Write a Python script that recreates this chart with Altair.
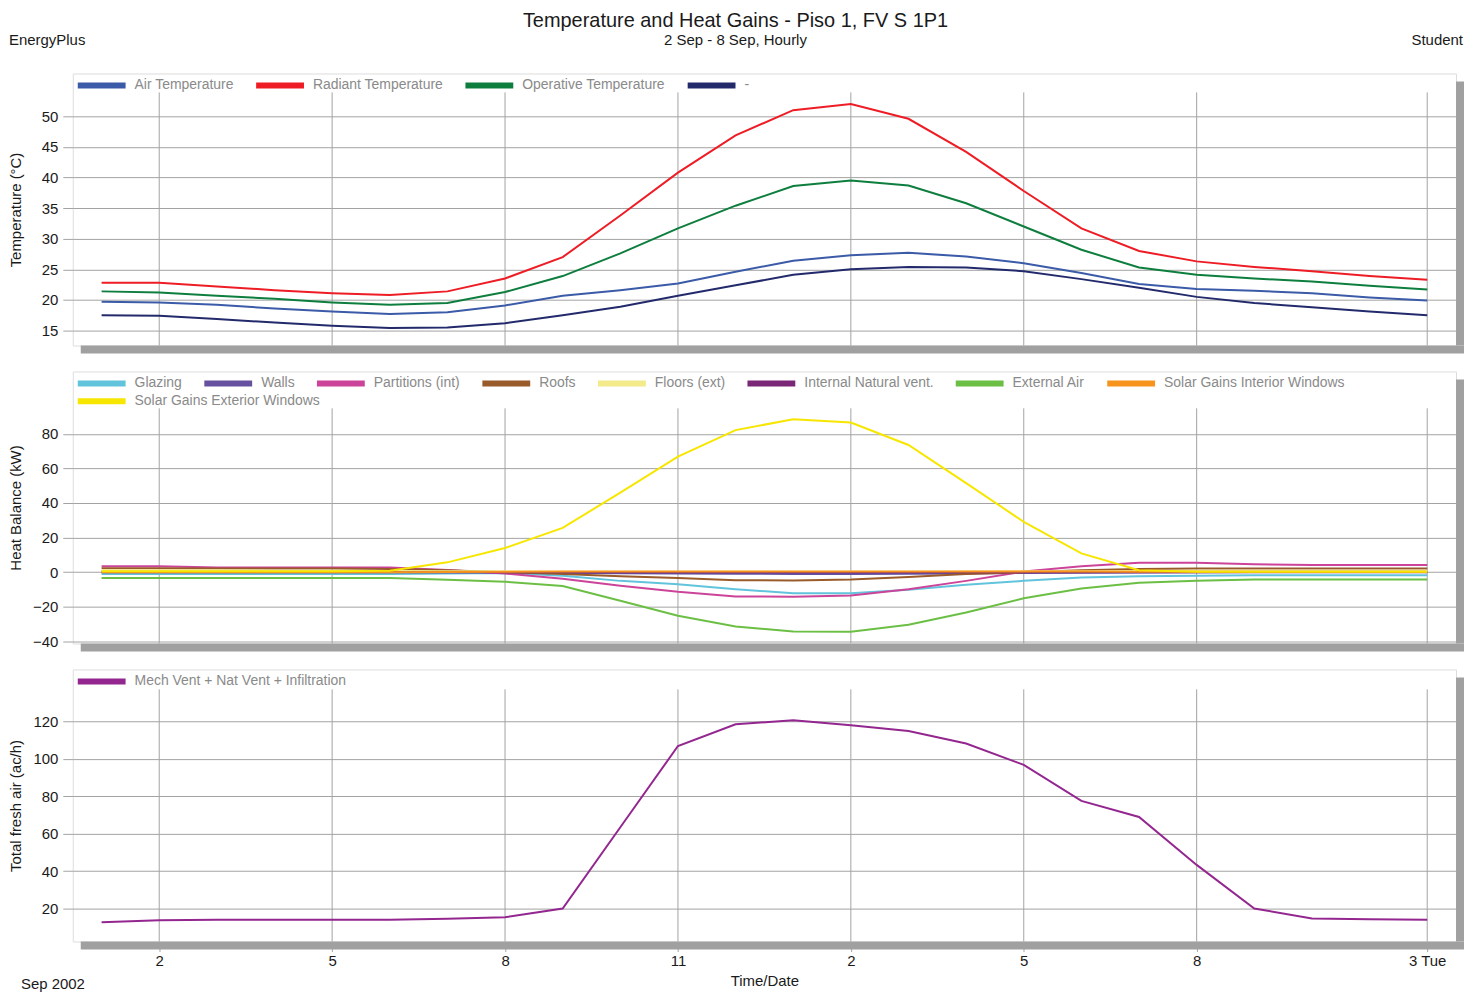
import altair as alt
import pandas as pd

# ---------------- data ----------------
hours = list(range(1, 25))
tick_hours = [2, 5, 8, 11, 14, 17, 20, 24]

temp_series = ["Air Temperature", "Radiant Temperature", "Operative Temperature", "-"]
temp_colors = ["#3b5ba8", "#ee1c25", "#0e7e3e", "#232a6c"]
air_temp = [19.7, 19.6, 19.2, 18.6, 18.1, 17.7, 18.0, 19.1, 20.7, 21.6, 22.7, 24.6,
            26.4, 27.3, 27.7, 27.1, 26.0, 24.4, 22.6, 21.8, 21.5, 21.1, 20.4, 19.9]
radiant_temp = [22.8, 22.8, 22.2, 21.6, 21.1, 20.8, 21.4, 23.5, 27.0, 33.8, 40.8, 46.9,
                51.0, 52.0, 49.6, 44.2, 37.8, 31.7, 28.0, 26.3, 25.4, 24.7, 23.9, 23.3]
operative_temp = [21.4, 21.2, 20.7, 20.2, 19.6, 19.2, 19.5, 21.3, 23.9, 27.6, 31.7, 35.4,
                  38.6, 39.5, 38.7, 35.8, 32.0, 28.2, 25.3, 24.1, 23.5, 23.0, 22.3, 21.7]
dash_temp = [17.5, 17.4, 16.9, 16.3, 15.8, 15.4, 15.5, 16.2, 17.5, 18.9, 20.7, 22.4,
             24.1, 25.0, 25.4, 25.3, 24.7, 23.4, 22.0, 20.5, 19.5, 18.8, 18.1, 17.5]

heat_series = ["Glazing", "Walls", "Partitions (int)", "Roofs", "Floors (ext)",
               "Internal Natural vent.", "External Air", "Solar Gains Interior Windows"]
heat_colors = ["#62c4dc", "#6650a0", "#cc4499", "#9a5b2a", "#f3ea8a",
               "#7a2777", "#6cbf45", "#f7941d"]
ext_series = ["Solar Gains Exterior Windows"]
ext_colors = ["#f7e600"]
glazing = [-1.0, -1.0, -1.0, -1.0, -1.0, -1.0, -0.8, -0.4, -2.1, -5.0, -6.9, -9.8,
           -12.2, -12.2, -10.1, -7.3, -5.0, -3.1, -2.3, -2.1, -1.7, -1.7, -1.7, -1.7]
walls = [0.2, 0.2, 0.2, 0.2, 0.1, 0.1, 0.0, -0.2, -0.4, -0.6, -0.8, -0.9,
         -1.0, -1.0, -0.9, -0.7, -0.5, -0.3, -0.1, 0.0, 0.1, 0.1, 0.1, 0.1]
partitions = [3.4, 3.4, 2.7, 2.7, 2.7, 2.7, 1.3, -0.8, -3.8, -7.8, -11.3, -14.0,
              -14.2, -13.4, -9.8, -5.0, 0.4, 3.4, 5.4, 5.4, 4.6, 4.2, 4.2, 4.2]
roofs = [2.3, 2.3, 2.2, 2.2, 2.1, 1.9, 1.1, 0.0, -1.1, -2.3, -3.4, -4.6,
         -4.8, -4.2, -2.7, -1.1, 0.0, 1.1, 1.9, 2.1, 2.1, 2.1, 2.1, 2.1]
floors = [1.2, 1.2, 1.2, 0.9, 0.8, 0.7, 0.6, 0.5, 0.3, 0.2, 0.2, 0.2,
          0.2, 0.2, 0.3, 0.4, 0.5, 0.6, 0.7, 0.8, 0.8, 0.8, 0.8, 0.8]
internal_vent = [0.0, 0.0, 0.0, 0.0, 0.0, 0.0, 0.0, 0.0, 0.0, 0.0, 0.0, 0.0,
                 0.0, 0.0, 0.0, 0.0, 0.0, 0.0, 0.0, 0.0, 0.0, 0.0, 0.0, 0.0]
external_air = [-3.4, -3.4, -3.4, -3.4, -3.4, -3.4, -4.4, -5.5, -8.0, -16.5, -25.1, -31.4,
                -34.3, -34.4, -30.4, -23.3, -15.1, -9.4, -6.1, -5.0, -4.2, -4.2, -4.2, -4.2]
solar_int = [0.0, 0.0, 0.0, 0.0, 0.0, 0.0, 0.1, 0.3, 0.4, 0.4, 0.4, 0.4,
             0.4, 0.4, 0.4, 0.4, 0.4, 0.4, 0.3, 0.2, 0.2, 0.2, 0.2, 0.2]
solar_ext = [0.6, 0.6, 0.6, 0.6, 0.6, 0.8, 5.7, 14.0, 25.6, 46.0, 66.8, 82.1,
             88.4, 86.5, 73.5, 51.5, 29.1, 10.9, 1.1, 0.3, 0.3, 0.3, 0.3, 0.3]

air_series = ["Mech Vent + Nat Vent + Infiltration"]
air_colors = ["#93278f"]
fresh_air = [12.7, 13.8, 14.0, 14.0, 14.0, 14.0, 14.5, 15.4, 20.0, 63.4, 106.8, 118.4,
             120.5, 117.9, 114.8, 108.1, 96.7, 77.5, 68.9, 43.3, 20.0, 14.7, 14.3, 14.0]

# ---------------- styling ----------------
FONT = "Liberation Sans"
GRID = "#a3a3a3"
SHADOW = "#a0a0a0"
TXT = "#1a1a1a"
W = 1388
H = 273


def long_df(names, arrays):
    rows = []
    for name, arr in zip(names, arrays):
        for h, v in zip(hours, arr):
            rows.append({"hour": h, "value": v, "series": name})
    return pd.DataFrame(rows)


dummy = pd.DataFrame({"k": [0]})
xscale = alt.Scale(domain=[0.5, 24.5], nice=False, zero=False)


def text_mark(txt, x, y, size, align="left", color=TXT):
    return alt.Chart(dummy).mark_text(
        font=FONT, fontSize=size, align=align, baseline="middle", color=color
    ).encode(x=alt.value(x), y=alt.value(y), text=alt.value(txt))


def make_legend(ly):
    return alt.Legend(
        orient="none", legendX=2, legendY=ly, offset=0, direction="horizontal", columns=0,
        title=None, symbolType="stroke", symbolSize=2304,
        symbolStrokeWidth=6, labelFontSize=14, labelColor="#8a8a8a", labelFont=FONT,
        labelOffset=6, columnPadding=10, labelLimit=400,
    )


def line_layer(df, names, colors, ydomain, yvalues, ytitle, xaxis, ly):
    return alt.Chart(df).mark_line(strokeWidth=2).encode(
        x=alt.X("hour:Q", scale=xscale, axis=xaxis),
        y=alt.Y("value:Q", scale=alt.Scale(domain=ydomain, nice=False, zero=False),
                axis=alt.Axis(values=yvalues, title=ytitle, titleX=-49, titleAngle=270,
                              titleBaseline="bottom", titleAlign="center",
                              titleFontWeight="normal", titleFont=FONT, titleColor=TXT,
                              grid=True, gridColor=GRID, gridWidth=1, domain=False,
                              tickSize=10, tickColor=GRID, labelPadding=5,
                              labelFont=FONT, labelColor=TXT,
                              labelFontSize=15, titleFontSize=15)),
        color=alt.Color("series:N", scale=alt.Scale(domain=names, range=colors),
                        sort=names, legend=make_legend(ly)),
    )


def panel(line_layers, grid_top, xaxis=None, extras=()):
    vgrid = alt.Chart(pd.DataFrame({"hour": tick_hours})).mark_rule(
        color=GRID, strokeWidth=1
    ).encode(x=alt.X("hour:Q", scale=xscale, axis=xaxis),
             y=alt.value(grid_top), y2=alt.value(H))
    shadow_b = alt.Chart(dummy).mark_rect(color=SHADOW).encode(
        x=alt.value(8), x2=alt.value(W + 8), y=alt.value(H), y2=alt.value(H + 8))
    shadow_r = alt.Chart(dummy).mark_rect(color=SHADOW).encode(
        x=alt.value(W), x2=alt.value(W + 8), y=alt.value(8), y2=alt.value(H))
    return alt.layer(shadow_b, shadow_r, vgrid, *line_layers, *extras).resolve_scale(
        color="independent").properties(width=W, height=H)


temp_df = long_df(temp_series, [air_temp, radiant_temp, operative_temp, dash_temp])
heat_df = long_df(heat_series, [glazing, walls, partitions, roofs, floors, internal_vent,
                                external_air, solar_int])
ext_df = long_df(ext_series, [solar_ext])
air_df = long_df(air_series, [fresh_air])

header = [
    text_mark("Temperature and Heat Gains - Piso 1, FV S 1P1", W / 2 - 29, -53, 20, "center"),
    text_mark("2 Sep - 8 Sep, Hourly", W / 2 - 29, -34, 15, "center"),
    text_mark("EnergyPlus", -64, -34, 15, "left"),
    text_mark("Student", W + 7, -34, 15, "right"),
]

ydom1, yval1 = [12.55, 57.0], [15, 20, 25, 30, 35, 40, 45, 50]
ydom2, yval2 = [-41.2, 116.0], [-40, -20, 0, 20, 40, 60, 80]
ydom3, yval3 = [2.4, 147.7], [20, 40, 60, 80, 100, 120]

p1 = panel([line_layer(temp_df, temp_series, temp_colors, ydom1, yval1,
                       "Temperature (°C)", None, -15)], 19, extras=header)
p2 = panel([line_layer(heat_df, heat_series, heat_colors, ydom2, yval2,
                       "Heat Balance (kW)", None, -15),
            line_layer(ext_df, ext_series, ext_colors, ydom2, yval2,
                       "Heat Balance (kW)", None, 3)], 37)

xaxis3 = alt.Axis(values=tick_hours,
                  labelExpr="datum.value == 24 ? '3 Tue' : (datum.value > 12 ? datum.value - 12 : datum.value)",
                  title="Time/Date", grid=False, domain=False, tickSize=10, tickColor=GRID,
                  labelPadding=2, labelFontSize=15, titleFontSize=15, titlePadding=5,
                  labelFont=FONT, titleFont=FONT, titleFontWeight="normal",
                  labelColor=TXT, titleColor=TXT, labelFlush=False)
p3 = panel([line_layer(air_df, air_series, air_colors, ydom3, yval3,
                       "Total fresh air (ac/h)", xaxis3, -15)], 20, xaxis=xaxis3,
           extras=[text_mark("Sep 2002", -52, H + 43, 15, "left")])

chart = alt.vconcat(p1, p2, p3, spacing=1).properties(
    padding={"left": 0, "top": 0, "right": 0, "bottom": 4}
).resolve_scale(color="independent").configure_view(
    stroke="#a8a8a8", fill="#eff0ef"
).configure(background="white")

chart.save("out.html", embed_options={"renderer": "svg", "actions": False})
